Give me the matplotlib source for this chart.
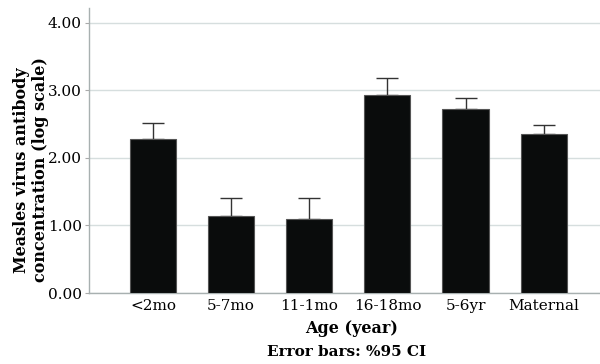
import matplotlib
matplotlib.use("Agg")
import matplotlib.pyplot as plt
import numpy as np

# Values
groups = ["<2mo", "5-7mo", "11-1mo", "16-18mo", "5-6yr", "Maternal"]
means = [2.28, 1.14, 1.09, 2.93, 2.72, 2.35]
upper_ci = [2.51, 1.41, 1.41, 3.19, 2.89, 2.49]
yticks = [0.0, 1.0, 2.0, 3.0, 4.0]

plt.rcParams["font.family"] = ["DejaVu Serif"]

fig = plt.figure(figsize=(6.0, 3.64), dpi=100)
ax = fig.add_axes([0.148, 0.195, 0.852, 0.783])

x = np.arange(len(groups))
err = np.array(upper_ci) - np.array(means)
ax.bar(x, means, width=0.59, color="#0a0c0c", edgecolor="#555555",
       linewidth=0.8, zorder=3)
ax.errorbar(x, means, yerr=[np.zeros_like(err), err], fmt="none",
            ecolor="#333333", elinewidth=1.0, capsize=8, capthick=1.0,
            zorder=2)

ax.set_xlim(-0.82, 5.72)
ax.set_ylim(0, 4.22)
ax.set_yticks(yticks)
ax.set_yticklabels([f"{v:.2f}" for v in yticks], fontsize=11)
ax.set_xticks(x)
ax.set_xticklabels(groups, fontsize=11)
ax.tick_params(axis="x", length=0, pad=4)
ax.tick_params(axis="y", length=3, color="#aaaaaa", pad=2)
ax.yaxis.grid(True, color="#d6dede", linewidth=1.0, zorder=0)
ax.set_axisbelow(True)

for side in ["top", "right"]:
    ax.spines[side].set_visible(False)
for side in ["left", "bottom"]:
    ax.spines[side].set_color("#a8b0b0")
    ax.spines[side].set_linewidth(1.0)

# axis titles placed by hand to match the reference positions
fig.text(31 / 600, 1 - 170 / 364,
         "Measles virus antibody\nconcentration (log scale)",
         rotation=90, ha="center", va="center", fontsize=11.5,
         fontweight="bold", linespacing=1.1, multialignment="center")
ax.set_xlabel("Age (year)", fontsize=11.5, fontweight="bold")
ax.xaxis.set_label_coords((352 - 89) / 511, -0.095)
fig.text(347 / 600, 1 - 352 / 364, "Error bars: %95 CI", ha="center",
         va="center", fontsize=11, fontweight="bold")

fig.savefig("out.png", dpi=100)
